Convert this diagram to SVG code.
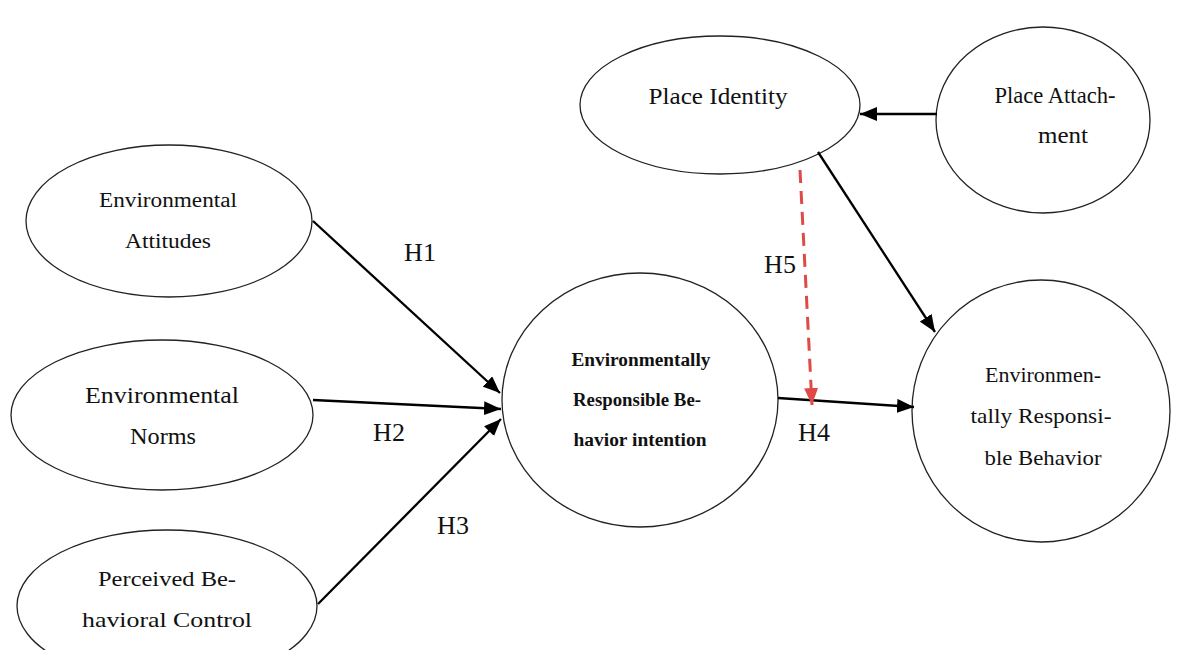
<svg xmlns="http://www.w3.org/2000/svg" width="1182" height="650" viewBox="0 0 1182 650">
<defs>
<style>
.node ellipse{fill:#fff;stroke:#222;stroke-width:1.3}
.t{font-family:"Liberation Serif","Times New Roman",serif;fill:#111;text-anchor:middle}
.b{font-weight:bold}
.edge{stroke:#000;stroke-width:2.3;fill:none}
.dash{stroke:#e04a46;stroke-width:3;fill:none;stroke-dasharray:13 8}
.lbl{font-family:"Liberation Serif","Times New Roman",serif;font-size:26px;fill:#111;text-anchor:middle}
</style>
<marker id="ah" markerUnits="userSpaceOnUse" markerWidth="18" markerHeight="14" refX="17" refY="7" orient="auto">
<path d="M0,0 L17,7 L0,14 z" fill="#000"/>
</marker>
<marker id="ahr" markerUnits="userSpaceOnUse" markerWidth="18" markerHeight="14" refX="17" refY="7" orient="auto">
<path d="M0,0 L17,7 L0,14 z" fill="#e04a46"/>
</marker>
</defs>
<rect width="1182" height="650" fill="#fff"/>

<g id="ea" class="node">
<ellipse cx="169" cy="221" rx="143" ry="76"/>
<text class="t" x="168" y="207" font-size="20.5" textLength="138" lengthAdjust="spacingAndGlyphs">Environmental</text>
<text class="t" x="168" y="248" font-size="20.5" textLength="86" lengthAdjust="spacingAndGlyphs">Attitudes</text>
</g>
<g id="en" class="node">
<ellipse cx="162" cy="415" rx="151" ry="75"/>
<text class="t" x="162" y="403" font-size="22.5" textLength="154" lengthAdjust="spacingAndGlyphs">Environmental</text>
<text class="t" x="163" y="444" font-size="22.5" textLength="66" lengthAdjust="spacingAndGlyphs">Norms</text>
</g>
<g id="pbc" class="node">
<ellipse cx="167" cy="606" rx="150" ry="76"/>
<text class="t" x="167" y="586" font-size="21.5" textLength="138" lengthAdjust="spacingAndGlyphs">Perceived Be-</text>
<text class="t" x="167" y="627" font-size="21.5" textLength="170" lengthAdjust="spacingAndGlyphs">havioral Control</text>
</g>
<g id="erbi" class="node">
<ellipse cx="640" cy="400" rx="138" ry="127"/>
<text class="t b" x="641" y="366" font-size="18.5" textLength="139" lengthAdjust="spacingAndGlyphs">Environmentally</text>
<text class="t b" x="637" y="406" font-size="18.5" textLength="128" lengthAdjust="spacingAndGlyphs">Responsible Be-</text>
<text class="t b" x="640" y="446" font-size="18.5" textLength="133" lengthAdjust="spacingAndGlyphs">havior intention</text>
</g>
<g id="pi" class="node">
<ellipse cx="720" cy="105" rx="140" ry="69"/>
<text class="t" x="718" y="104" font-size="22.5" textLength="139" lengthAdjust="spacingAndGlyphs">Place Identity</text>
</g>
<g id="pa" class="node">
<ellipse cx="1043" cy="120" rx="107" ry="93"/>
<text class="t" x="1055" y="103" font-size="22.5" textLength="121" lengthAdjust="spacingAndGlyphs">Place Attach-</text>
<text class="t" x="1063" y="143" font-size="22.5" textLength="50" lengthAdjust="spacingAndGlyphs">ment</text>
</g>
<g id="erb" class="node">
<ellipse cx="1041" cy="411" rx="129" ry="131"/>
<text class="t" x="1043" y="382" font-size="21.5" textLength="116" lengthAdjust="spacingAndGlyphs">Environmen-</text>
<text class="t" x="1041" y="423" font-size="21.5" textLength="141" lengthAdjust="spacingAndGlyphs">tally Responsi-</text>
<text class="t" x="1043" y="465" font-size="21.5" textLength="117" lengthAdjust="spacingAndGlyphs">ble Behavior</text>
</g>

<g id="connectors">
<line class="edge" x1="313" y1="221" x2="500" y2="393" marker-end="url(#ah)"/>
<line class="edge" x1="313" y1="400" x2="501" y2="409" marker-end="url(#ah)"/>
<line class="edge" x1="318" y1="604" x2="501" y2="419" marker-end="url(#ah)"/>
<line class="edge" x1="778" y1="398" x2="914" y2="407" marker-end="url(#ah)"/>
<line class="edge" x1="818" y1="152" x2="935" y2="332" marker-end="url(#ah)"/>
<line class="edge" x1="937" y1="114" x2="860" y2="114" marker-end="url(#ah)"/>
<line class="dash" x1="800" y1="170" x2="812" y2="405" marker-end="url(#ahr)"/>
<text class="lbl" x="420" y="261">H1</text>
<text class="lbl" x="389" y="441">H2</text>
<text class="lbl" x="453" y="534">H3</text>
<text class="lbl" x="814" y="441">H4</text>
<text class="lbl" x="780" y="273">H5</text>
</g>
</svg>
